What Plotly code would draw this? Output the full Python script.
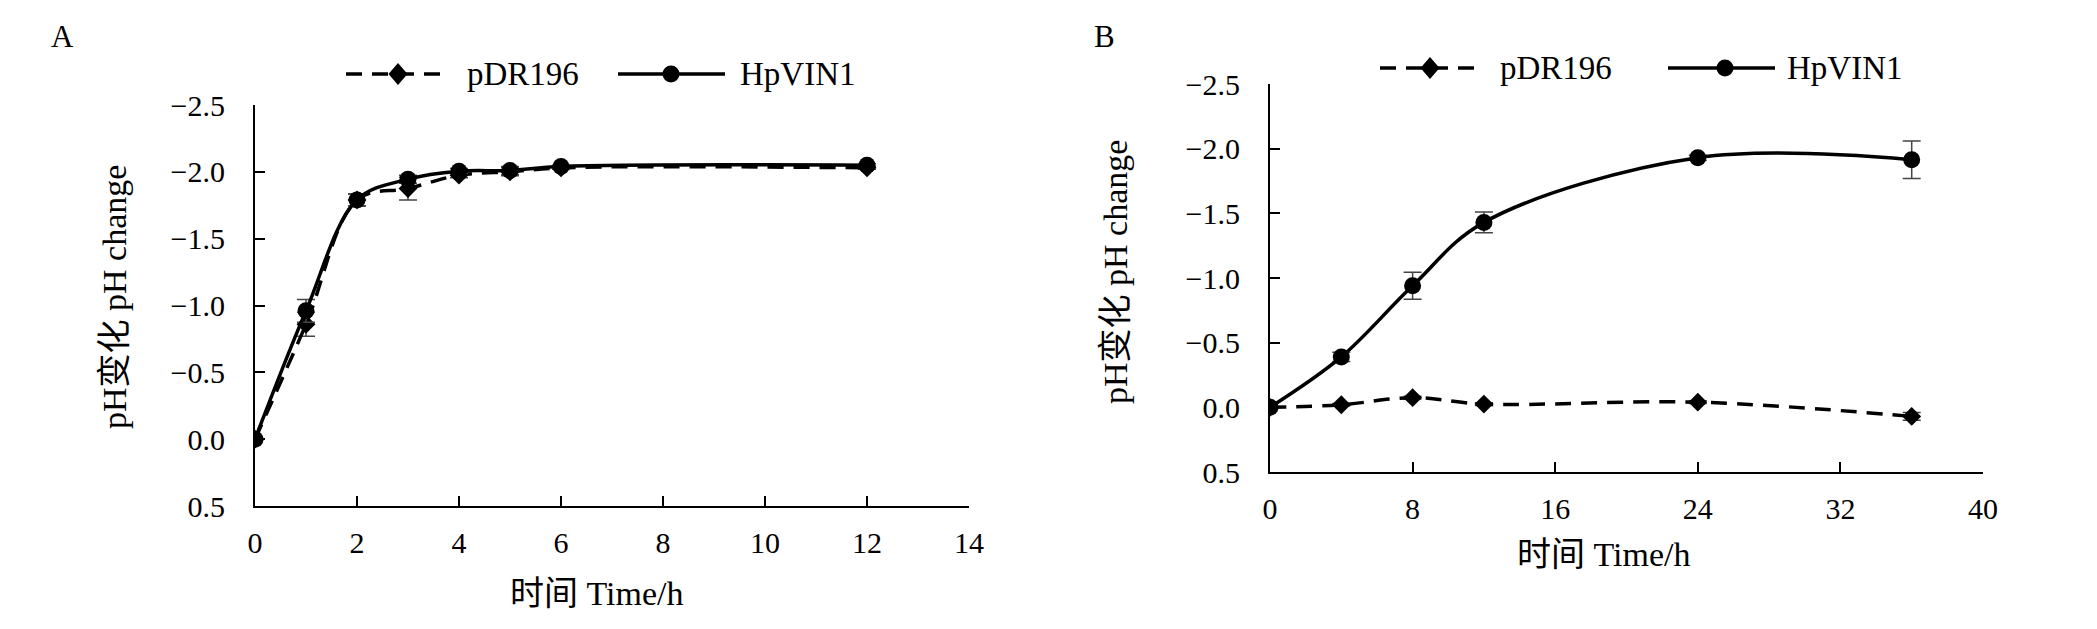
import plotly.graph_objects as go
from plotly.subplots import make_subplots

# panel A: short time course (h)
time_a = [0, 1, 2, 3, 4, 5, 6, 12]
pdr196_a = [0.0, -0.86, -1.79, -1.875, -1.975, -2.0, -2.03, -2.03]
pdr196_a_err = [0.0, 0.09, 0.045, 0.085, 0.02, 0.03, 0.01, 0.01]
hpvin1_a = [0.0, -0.96, -1.79, -1.945, -2.005, -2.01, -2.04, -2.05]
hpvin1_a_err = [0.0, 0.085, 0.045, 0.03, 0.02, 0.03, 0.01, 0.01]

# panel B: long time course (h)
time_b = [0, 4, 8, 12, 24, 36]
pdr196_b = [0.0, -0.02, -0.075, -0.025, -0.04, 0.07]
pdr196_b_err = [0.0, 0.01, 0.01, 0.01, 0.01, 0.03]
hpvin1_b = [0.0, -0.39, -0.94, -1.43, -1.93, -1.915]
hpvin1_b_err = [0.0, 0.035, 0.105, 0.08, 0.02, 0.145]

series_names = ["pDR196", "HpVIN1"]
x_title = "时间 Time/h"
y_title = "pH变化 pH change"
panel_labels = ["A", "B"]

FONT = "Liberation Serif, Noto Sans CJK SC, serif"
ERR_COLOR = "#444"
DASH = "16px,10px"

# the page has an 8px body margin, so the figure is 16px smaller than the window
W, H = 2081, 613


def px(x):  # window pixel -> paper x
    return (x - 8) / W


def py(y):  # window pixel (from top) -> paper y
    return 1 - (y - 8) / H


fig = make_subplots(rows=1, cols=2)


def add_pair(col, t, y1, e1, y2, e2):
    fig.add_trace(go.Scatter(
        x=t, y=y1, name=series_names[0], mode="lines+markers", showlegend=False,
        line=dict(color="black", width=3.5, dash=DASH, shape="spline", smoothing=1),
        marker=dict(symbol="diamond", size=14.5, color="black"),
        error_y=dict(type="data", array=e1, color=ERR_COLOR, thickness=1.5, width=9)),
        row=1, col=col)
    fig.add_trace(go.Scatter(
        x=t, y=y2, name=series_names[1], mode="lines+markers", showlegend=False,
        line=dict(color="black", width=3.5, shape="spline", smoothing=1),
        marker=dict(symbol="circle", size=17, color="black"),
        error_y=dict(type="data", array=e2, color=ERR_COLOR, thickness=1.5, width=9)),
        row=1, col=col)


add_pair(1, time_a, pdr196_a, pdr196_a_err, hpvin1_a, hpvin1_a_err)
add_pair(2, time_b, pdr196_b, pdr196_b_err, hpvin1_b, hpvin1_b_err)

axis_common = dict(
    showline=True, linecolor="black", linewidth=2, mirror=False,
    ticks="inside", ticklen=10, tickwidth=2, tickcolor="black",
    showgrid=False, zeroline=False, automargin=False,
    tickfont=dict(family=FONT, size=30, color="black"),
)

fig.update_xaxes(**axis_common, ticklabelstandoff=9)
fig.update_yaxes(**axis_common, ticklabelstandoff=22, dtick=0.5, tickformat=".1f",
                 range=[0.5, -2.5])

fig.update_xaxes(range=[0, 14], dtick=2, domain=[px(255), px(969)], row=1, col=1)
fig.update_xaxes(range=[0, 40], dtick=8, domain=[px(1270), px(1983)], row=1, col=2)
fig.update_yaxes(domain=[py(506), py(105)], row=1, col=1)
fig.update_yaxes(domain=[py(472), py(84)], row=1, col=2)

annotations = []

# axis titles, placed as in the original (slightly off-centre)
for cx, cy in ((597, 593), (1604, 554)):
    annotations.append(dict(text=x_title, x=px(cx), y=py(cy), xref="paper", yref="paper",
                            showarrow=False, xanchor="center", yanchor="middle",
                            font=dict(family=FONT, size=34, color="black")))
for cx, cy in ((114, 297), (1115, 272)):
    annotations.append(dict(text=y_title, x=px(cx), y=py(cy), xref="paper", yref="paper",
                            showarrow=False, xanchor="center", yanchor="middle", textangle=-90,
                            font=dict(family=FONT, size=34, color="black")))

# hand-drawn legends (long sample lines like the original)
legend_rows = [
    # (dash line x0, x1, diamond x, text x, solid x0, x1, circle x, text x, y)
    (346, 444, 398, 465, 618, 725, 671, 738, 74),
    (1380, 1478, 1430, 1498, 1668, 1775, 1725, 1785, 68),
]
shapes = []
for d0, d1, dx, tx1, s0, s1, cx, tx2, ly in legend_rows:
    shapes.append(dict(type="line", xref="paper", yref="paper", x0=px(d0), x1=px(d1),
                       y0=py(ly), y1=py(ly), line=dict(color="black", width=3.5, dash=DASH)))
    shapes.append(dict(type="path", xref="paper", yref="paper", xsizemode="pixel", ysizemode="pixel",
                       xanchor=px(dx), yanchor=py(ly), path="M -9.5,0 L 0,-11 L 9.5,0 L 0,11 Z",
                       fillcolor="black", line=dict(width=0)))
    shapes.append(dict(type="line", xref="paper", yref="paper", x0=px(s0), x1=px(s1),
                       y0=py(ly), y1=py(ly), line=dict(color="black", width=3.5)))
    shapes.append(dict(type="circle", xref="paper", yref="paper", xsizemode="pixel", ysizemode="pixel",
                       xanchor=px(cx), yanchor=py(ly), x0=-8.5, x1=8.5, y0=-8.5, y1=8.5,
                       fillcolor="black", line=dict(width=0)))
    for tx, name in ((tx1, series_names[0]), (tx2, series_names[1])):
        annotations.append(dict(text=name, x=px(tx), y=py(ly), xref="paper", yref="paper",
                                showarrow=False, xanchor="left", yanchor="middle",
                                font=dict(family=FONT, size=33, color="black")))

for label, lx in zip(panel_labels, (62, 1104)):
    annotations.append(dict(text=label, x=px(lx), y=py(37), xref="paper", yref="paper",
                            showarrow=False, xanchor="center", yanchor="middle",
                            font=dict(family=FONT, size=31, color="black")))

fig.update_layout(
    width=W, height=H,
    margin=dict(l=0, r=0, t=0, b=0, autoexpand=False),
    plot_bgcolor="white", paper_bgcolor="white",
    showlegend=False,
    shapes=shapes,
)
for a in annotations:
    fig.add_annotation(a)

fig.write_html("out.html")
